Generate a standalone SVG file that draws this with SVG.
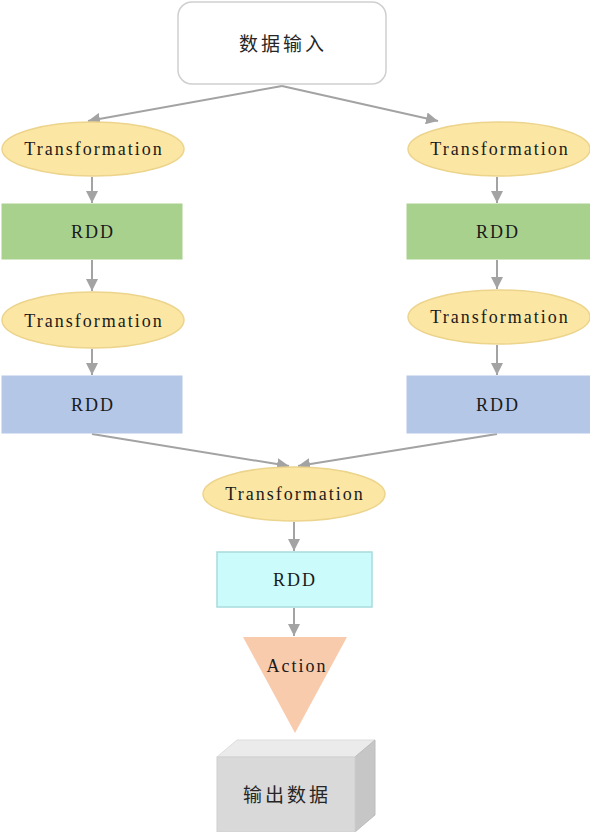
<svg xmlns="http://www.w3.org/2000/svg" width="590" height="832" viewBox="0 0 590 832">
<style>
.lat{font-family:"Liberation Serif","Times New Roman",serif;font-size:18px;letter-spacing:2px;fill:#1a1a1a;text-anchor:middle}
.cjk{font-family:"Noto Sans CJK SC","Noto Sans",sans-serif;font-size:19px;letter-spacing:3px;fill:#262626;text-anchor:middle}
.ell{fill:#fce6a4;stroke:#ecd48c;stroke-width:1.5}
.grn{fill:#a9d18e;stroke:#a9d18e}
.blu{fill:#b4c7e7;stroke:#b4c7e7}
.conn line{stroke:#a3a3a3;stroke-width:2;fill:none;marker-end:url(#ah)}
</style>
<defs>
<marker id="ah" viewBox="0 0 10 10" refX="10" refY="5" markerWidth="6" markerHeight="6" orient="auto" markerUnits="strokeWidth">
<path d="M0,0 L10,5 L0,10 z" fill="#a3a3a3"/>
</marker>
</defs>
<g class="conn">
<line x1="282" y1="86" x2="88" y2="121"/>
<line x1="282" y1="86" x2="438" y2="121"/>
<line x1="92" y1="177" x2="92" y2="203"/>
<line x1="497" y1="177" x2="497" y2="203"/>
<line x1="92" y1="260" x2="92" y2="291"/>
<line x1="497" y1="260" x2="497" y2="289"/>
<line x1="92" y1="349" x2="92" y2="375"/>
<line x1="497" y1="345" x2="497" y2="375"/>
<line x1="92" y1="434" x2="289" y2="466"/>
<line x1="497" y1="434" x2="298" y2="466"/>
<line x1="294" y1="522" x2="294" y2="551"/>
<line x1="294" y1="608" x2="294" y2="636"/>
</g>
<g id="input">
<rect x="178" y="2" width="208" height="82" rx="14" fill="#ffffff" stroke="#cfcfcf" stroke-width="1.5"/>
<text class="cjk" x="283" y="51">数据输入</text>
</g>
<g id="tL1">
<ellipse class="ell" cx="93" cy="149" rx="91" ry="27"/>
<text class="lat" x="94" y="155">Transformation</text>
</g>
<g id="tR1">
<ellipse class="ell" cx="499" cy="149" rx="91" ry="27"/>
<text class="lat" x="500" y="155">Transformation</text>
</g>
<g id="rddL1">
<rect class="grn" x="2" y="204" width="180" height="55"/>
<text class="lat" x="93" y="238">RDD</text>
</g>
<g id="rddR1">
<rect class="grn" x="407" y="204" width="183" height="55"/>
<text class="lat" x="498" y="238">RDD</text>
</g>
<g id="tL2">
<ellipse class="ell" cx="93" cy="320" rx="91" ry="28"/>
<text class="lat" x="94" y="327">Transformation</text>
</g>
<g id="tR2">
<ellipse class="ell" cx="499" cy="317" rx="91" ry="27"/>
<text class="lat" x="500" y="323">Transformation</text>
</g>
<g id="rddL2">
<rect class="blu" x="2" y="376" width="180" height="57"/>
<text class="lat" x="93" y="411">RDD</text>
</g>
<g id="rddR2">
<rect class="blu" x="407" y="376" width="183" height="57"/>
<text class="lat" x="498" y="411">RDD</text>
</g>
<g id="t3">
<ellipse class="ell" cx="294" cy="494" rx="91" ry="27"/>
<text class="lat" x="295" y="500">Transformation</text>
</g>
<g id="rdd3">
<rect x="217" y="552" width="155" height="55" fill="#ccfbfb" stroke="#a8dcdc" stroke-width="1.5"/>
<text class="lat" x="295" y="586">RDD</text>
</g>
<g id="action">
<polygon points="243,637 347,637 295,733" fill="#f8cbad"/>
<text class="lat" x="297" y="672">Action</text>
</g>
<g id="output">
<polygon points="217,757 237,740 375,740 355,757" fill="#ebebeb" stroke="#dcdcdc"/>
<polygon points="355,757 375,740 375,815 355,832" fill="#c6c6c6" stroke="#bdbdbd"/>
<rect x="217" y="757" width="138" height="75" fill="#d9d9d9" stroke="#cfcfcf"/>
<text class="cjk" x="287" y="802">输出数据</text>
</g>
</svg>
